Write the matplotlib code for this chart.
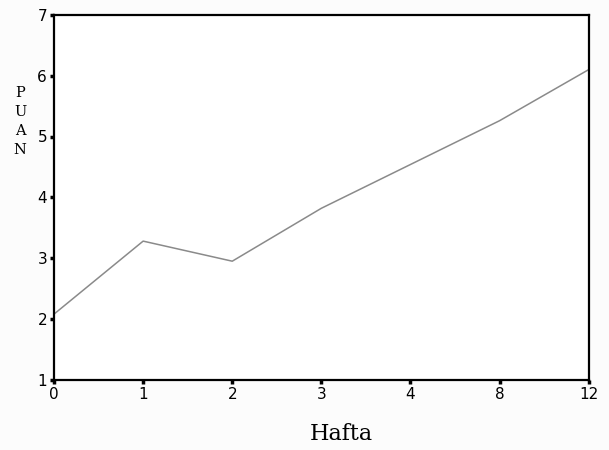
import matplotlib.pyplot as plt

# Data
weeks = ['0', '1', '2', '3', '4', '8', '12']
scores = [2.08, 3.28, 2.95, 3.82, 4.54, 5.26, 6.10]
y_ticks = [1, 2, 3, 4, 5, 6, 7]

fig = plt.figure(figsize=(6.09, 4.50), dpi=100)
fig.patch.set_facecolor('#fcfcfc')
ax = fig.add_axes([0.0887, 0.156, 0.878, 0.811])
ax.set_facecolor('white')

xpos = list(range(len(weeks)))
ax.plot(xpos, scores, color='#8a8a8a', linewidth=1.1)

ax.set_xlim(0, len(weeks) - 1)
ax.set_ylim(1, 7)
ax.set_xticks(xpos)
ax.set_xticklabels(weeks)
ax.set_yticks(y_ticks)

for s in ax.spines.values():
    s.set_linewidth(1.6)
    s.set_color('black')
ax.tick_params(direction='out', length=3, width=2.5, labelsize=11, pad=2)

fig.text(0.56, 0.012, 'Hafta', family='serif', fontsize=16, ha='center', va='bottom')
fig.text(0.033, 0.73, 'P\nU\nA\nN', family='serif', fontsize=10.5, ha='center', va='center',
         linespacing=1.45)

fig.savefig('out.png', dpi=100, facecolor=fig.get_facecolor())
